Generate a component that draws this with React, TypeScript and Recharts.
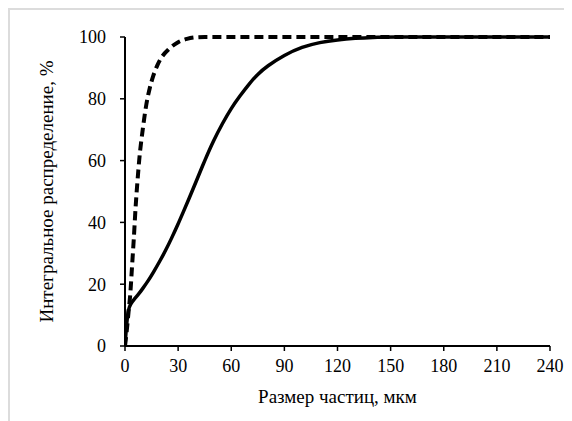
import { LineChart, Line, XAxis, YAxis, Label } from "recharts";

// particle size, um
const solidSize = [0, 1, 2, 3, 5, 8, 10, 13, 16, 20, 23, 26, 30, 33, 36, 40, 45, 50, 55, 60, 65, 70, 75, 80, 90, 100, 110, 120, 130, 140, 150, 180, 210, 240];
const solidValue = [0, 8, 12, 13.5, 15, 17, 18.6, 21, 23.8, 27.8, 31, 34.5, 39.5, 43.5, 47.5, 53, 60, 66.5, 72, 77, 81, 84.8, 88, 90.5, 94.2, 96.8, 98.3, 99.1, 99.6, 99.9, 100, 100, 100, 100];

const dashedSize = [0, 1, 2, 3, 4, 5, 6, 7, 8, 10, 12, 14, 16, 18, 20, 25, 30, 35, 40, 45, 60, 90, 120, 150, 180, 210, 240];
const dashedValue = [0, 5, 11, 17, 26, 35, 45, 53, 60, 70, 78, 83.5, 87.5, 90.5, 92.8, 96.2, 98.3, 99.4, 99.9, 100, 100, 100, 100, 100, 100, 100, 100];

const xTicks = [0, 30, 60, 90, 120, 150, 180, 210, 240];
const yTicks = [0, 20, 40, 60, 80, 100];

const xTitle = "Размер частиц, мкм";
const yTitle = "Интегральное распределение, %";

const solidData = solidSize.map((x, i) => ({ x, y: solidValue[i] }));
const dashedData = dashedSize.map((x, i) => ({ x, y: dashedValue[i] }));

const FONT = "'Times New Roman', 'Liberation Serif', 'DejaVu Serif', serif";
const tickStyle = { fill: "#000", fontSize: 18, fontFamily: FONT };

function YTitle({ viewBox }: any) {
  const cx = 38;
  const cy = viewBox.y + viewBox.height / 2;
  return (
    <text
      x={cx}
      y={cy}
      transform={`rotate(-90 ${cx} ${cy})`}
      textAnchor="middle"
      dominantBaseline="central"
      fill="#000"
      fontSize={19}
      fontFamily={FONT}
    >
      {yTitle}
    </text>
  );
}

function XTitle({ viewBox }: any) {
  const cx = viewBox.x + viewBox.width / 2;
  return (
    <text x={cx} y={388} textAnchor="middle" dominantBaseline="central" fill="#000" fontSize={19} fontFamily={FONT}>
      {xTitle}
    </text>
  );
}

export default function App() {
  return (
    <div style={{ position: "relative", width: 564, height: 413, fontFamily: FONT }}>
      <div
        style={{
          position: "absolute",
          left: 0,
          top: 0,
          width: 564,
          height: 413,
          borderTop: "2px solid #dcdcdc",
          borderLeft: "2px solid #dcdcdc",
          boxSizing: "border-box",
          pointerEvents: "none",
        }}
      />
      <LineChart width={564} height={413} margin={{ top: 29, right: 22, bottom: 0, left: 0 }}>
        <XAxis
          dataKey="x"
          type="number"
          domain={[0, 240]}
          ticks={xTicks}
          allowDataOverflow
          height={75}
          stroke="#000"
          strokeWidth={2}
          tickSize={5}
          tickMargin={8}
          tick={tickStyle}
          tickLine={{ stroke: "#000", strokeWidth: 1.5 }}
        >
          <Label content={<XTitle />} />
        </XAxis>
        <YAxis
          dataKey="y"
          type="number"
          domain={[0, 100]}
          ticks={yTicks}
          width={117}
          stroke="#000"
          strokeWidth={2}
          tickSize={5}
          tickMargin={14}
          tick={tickStyle}
          tickLine={{ stroke: "#000", strokeWidth: 1.5 }}
        >
          <Label content={<YTitle />} />
        </YAxis>
        <Line
          data={solidData}
          dataKey="y"
          type="basis"
          stroke="#000"
          strokeWidth={3.5}
          dot={false}
          isAnimationActive={false}
        />
        <Line
          data={dashedData}
          dataKey="y"
          type="monotone"
          stroke="#000"
          strokeWidth={4}
          strokeDasharray="9 5"
          dot={false}
          isAnimationActive={false}
        />
      </LineChart>
    </div>
  );
}
